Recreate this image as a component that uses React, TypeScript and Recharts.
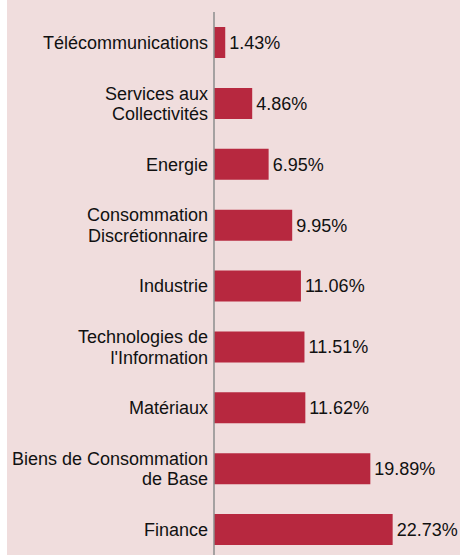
import { BarChart, Bar, XAxis, YAxis, LabelList } from 'recharts';

const sectors = [
  ['Télécommunications'],
  ['Services aux', 'Collectivités'],
  ['Energie'],
  ['Consommation', 'Discrétionnaire'],
  ['Industrie'],
  ['Technologies de', "l'Information"],
  ['Matériaux'],
  ['Biens de Consommation', 'de Base'],
  ['Finance'],
];
const weights = [1.43, 4.86, 6.95, 9.95, 11.06, 11.51, 11.62, 19.89, 22.73];

const data = sectors.map((lines, i) => ({ name: lines.join(' '), lines, value: weights[i] }));

const FONT = "'Liberation Sans', Arial, sans-serif";

const SectorTick = ({ x, y, payload, index }: any) => {
  const lines = sectors[index] ?? [payload.value];
  const lh = 20.5;
  const start = -((lines.length - 1) * lh) / 2;
  return (
    <text x={x} y={y} textAnchor="end" fill="#111" fontSize={18} fontFamily={FONT}>
      {lines.map((l: string, i: number) => (
        <tspan key={i} x={x} y={y + start + i * lh} dy="0.36em">
          {l}
        </tspan>
      ))}
    </text>
  );
};

export default function App() {
  return (
    <div style={{ position: 'absolute', left: 7, top: 0, width: 453, height: 555, overflow: 'hidden', background: '#f0dddd' }}>
      <BarChart
        width={453}
        height={560}
        data={data}
        layout="vertical"
        margin={{ top: 12, right: 49.5, bottom: 0, left: 0 }}
      >
        <XAxis type="number" domain={[0, 25]} hide />
        <YAxis
          type="category"
          dataKey="name"
          width={207}
          tickLine={false}
          tickSize={0}
          tickMargin={6}
          axisLine={{ stroke: '#8c8c8c', strokeWidth: 1.5 }}
          tick={<SectorTick />}
          interval={0}
        />
        <Bar dataKey="value" fill="#b7283f" barSize={31} isAnimationActive={false}>
          <LabelList
            dataKey="value"
            position="right"
            offset={4}
            fill="#111"
            fontSize={18}
            fontFamily={FONT}
            formatter={(v: any) => `${Number(v).toFixed(2)}%`}
          />
        </Bar>
      </BarChart>
    </div>
  );
}
